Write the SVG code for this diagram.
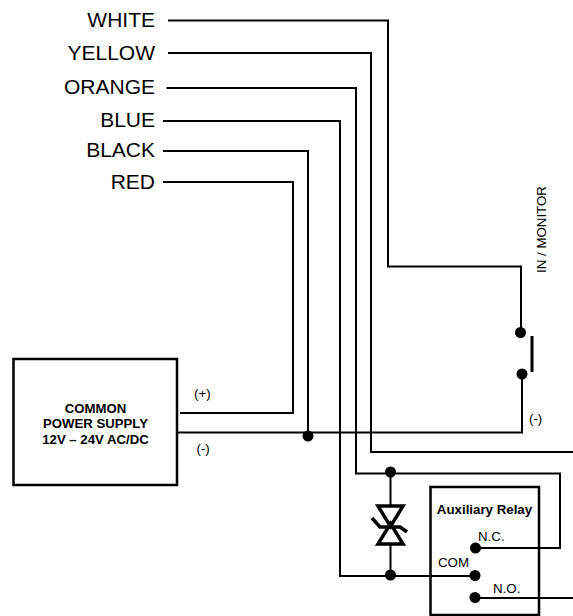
<svg xmlns="http://www.w3.org/2000/svg" width="573" height="616" viewBox="0 0 573 616">
<style>
.w{fill:none;stroke:#000;stroke-width:2}
.b{fill:none;stroke:#000;stroke-width:2.5}
.d{fill:#000;stroke:none}
text{font-family:"Liberation Sans",Arial,sans-serif;fill:#000}
.l{font-size:21px;text-anchor:end}
.s{font-size:13.300px}
.p{font-size:13.200px;font-weight:bold;text-anchor:middle}
.r{font-size:13.300px}
</style>
<rect width="573" height="616" fill="#fff"/>
<g id="connectors">
<path class="w" d="M168 20.500H388V266.500H521V333"/>
<path class="w" d="M168 53H371V452H573"/>
<path class="w" d="M166.500 88H356V473.500H560V548H475"/>
<path class="w" d="M163 121H340V576H475"/>
<path class="w" d="M163 151H308V436"/>
<path class="w" d="M163 182H293V413H180"/>
<path class="w" d="M177 432.500H522V374"/>
<path class="w" d="M475 598H573"/>
<path class="w" d="M390.500 472V506M390.500 544V575"/>
</g>
<g id="labels">
<text class="l" x="155" y="27">WHITE</text>
<text class="l" x="155" y="60">YELLOW</text>
<text class="l" x="155" y="94">ORANGE</text>
<text class="l" x="155" y="127">BLUE</text>
<text class="l" x="155" y="157">BLACK</text>
<text class="l" x="155" y="189">RED</text>
<text class="s" x="194" y="398">(+)</text>
<text class="s" x="196.500" y="453">(-)</text>
<text class="s" x="529" y="423">(-)</text>
<text class="s" transform="translate(545.500 273) rotate(-90)">IN / MONITOR</text>
</g>
<g id="power-supply">
<rect class="b" x="13.500" y="359" width="163.500" height="126" fill="none"/>
<text class="p" x="95.500" y="413">COMMON</text>
<text class="p" x="95.500" y="427.500">POWER SUPPLY</text>
<text class="p" x="95.500" y="444">12V – 24V AC/DC</text>
</g>
<g id="junction-black"><circle class="d" cx="308" cy="436" r="5.500"/></g>
<g id="monitor-switch">
<circle class="d" cx="520.500" cy="332.500" r="5.500"/>
<circle class="d" cx="522" cy="374" r="5.500"/>
<path class="b" d="M532 336V372" style="stroke-width:3"/>
</g>
<g id="tvs">
<circle class="d" cx="390.500" cy="472" r="5.500"/>
<circle class="d" cx="390.500" cy="575" r="5.500"/>
<path class="b" d="M378 506H403L390.500 526.500ZM378 544H403L390.500 523.500Z" style="stroke-width:3.500"/>
<path class="b" d="M372 518L380 527H400L407 532" style="stroke-width:3.500"/>
</g>
<g id="aux-relay">
<rect class="b" x="430.500" y="487" width="108.500" height="128"/>
<text x="484.500" y="514" text-anchor="middle" style="font-size:13.300px;font-weight:bold">Auxiliary Relay</text>
<text class="r" x="478" y="541">N.C.</text>
<text class="r" x="438" y="567">COM</text>
<text class="r" x="493" y="593">N.O.</text>
<circle class="d" cx="475.500" cy="548" r="5.500"/>
<circle class="d" cx="475" cy="575.500" r="5.500"/>
<circle class="d" cx="475" cy="597.500" r="5.500"/>
</g>
</svg>
